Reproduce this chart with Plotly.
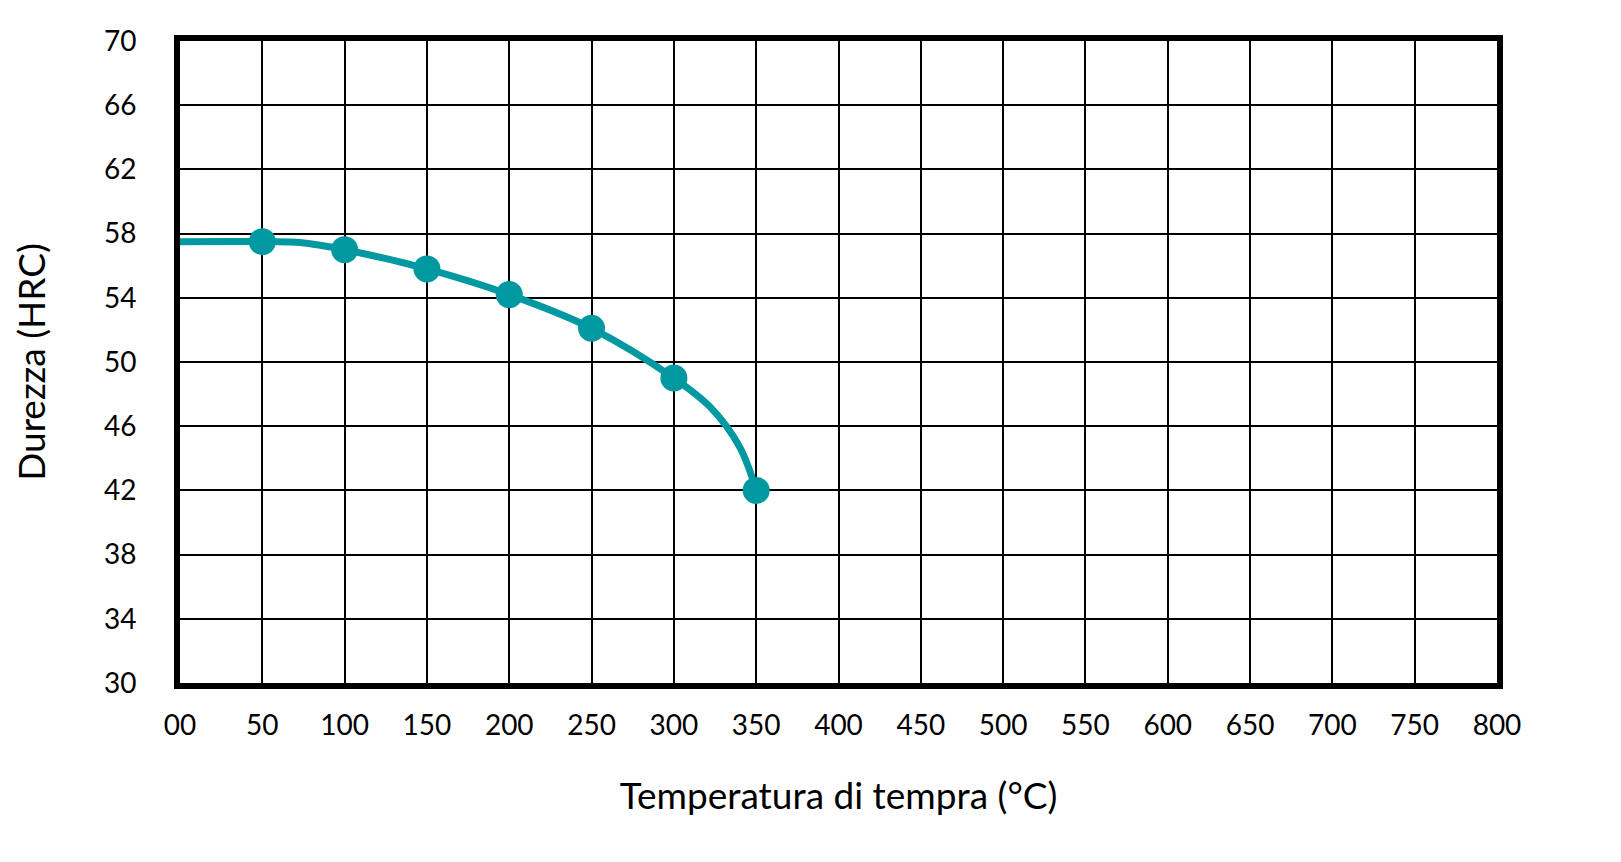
import plotly.graph_objects as go

# measured hardness after tempering
temps = [50, 100, 150, 200, 250, 300, 350]
hardness = [57.5, 57.0, 55.8, 54.2, 52.1, 49.0, 42.0]

# path of the drawn curve (starts at the left edge, bends down steeply at the end)
curve_x = [0, 50, 73, 100, 150, 200, 250, 300, 322, 340, 350]
curve_y = [57.5, 57.5, 57.45, 57.0, 55.8, 54.2, 52.1, 49.0, 47.2, 44.7, 42.0]

x_ticks = list(range(0, 801, 50))
x_labels = ["00"] + [str(v) for v in x_ticks[1:]]
y_ticks = list(range(30, 71, 4))

TEAL = "rgb(0, 153, 161)"
FONT = "Lato"

fig = go.Figure()
fig.add_trace(go.Scatter(
    x=curve_x, y=curve_y, mode="lines",
    line=dict(color=TEAL, width=7, shape="spline", smoothing=1.0),
    hoverinfo="skip", showlegend=False,
))
fig.add_trace(go.Scatter(
    x=temps, y=hardness, mode="markers",
    marker=dict(color=TEAL, size=27),
    showlegend=False,
))

fig.update_xaxes(
    range=[0, 800], tickvals=x_ticks, ticktext=x_labels,
    showgrid=True, gridcolor="black", gridwidth=1.8,
    showline=True, linecolor="black", linewidth=6, mirror=True,
    zeroline=False, ticks="", ticklabelstandoff=12,
    tickfont=dict(family=FONT, size=28, color="black"),
    title=dict(text="Temperatura di tempra (°C)", standoff=46,
               font=dict(family=FONT, size=37, color="black")),
)
fig.update_yaxes(
    range=[30, 70], tickvals=y_ticks,
    showgrid=True, gridcolor="black", gridwidth=1.8,
    showline=True, linecolor="black", linewidth=6, mirror=True,
    zeroline=False, ticks="", ticklabelstandoff=32,
    tickfont=dict(family=FONT, size=28, color="black"),
    title=dict(text="Durezza (HRC)", standoff=52,
               font=dict(family=FONT, size=37, color="black")),
)
fig.update_layout(
    width=1621, height=862,
    margin=dict(l=172, r=132, t=33, b=187),
    plot_bgcolor="white", paper_bgcolor="white",
)

fig.write_html("out.html")
